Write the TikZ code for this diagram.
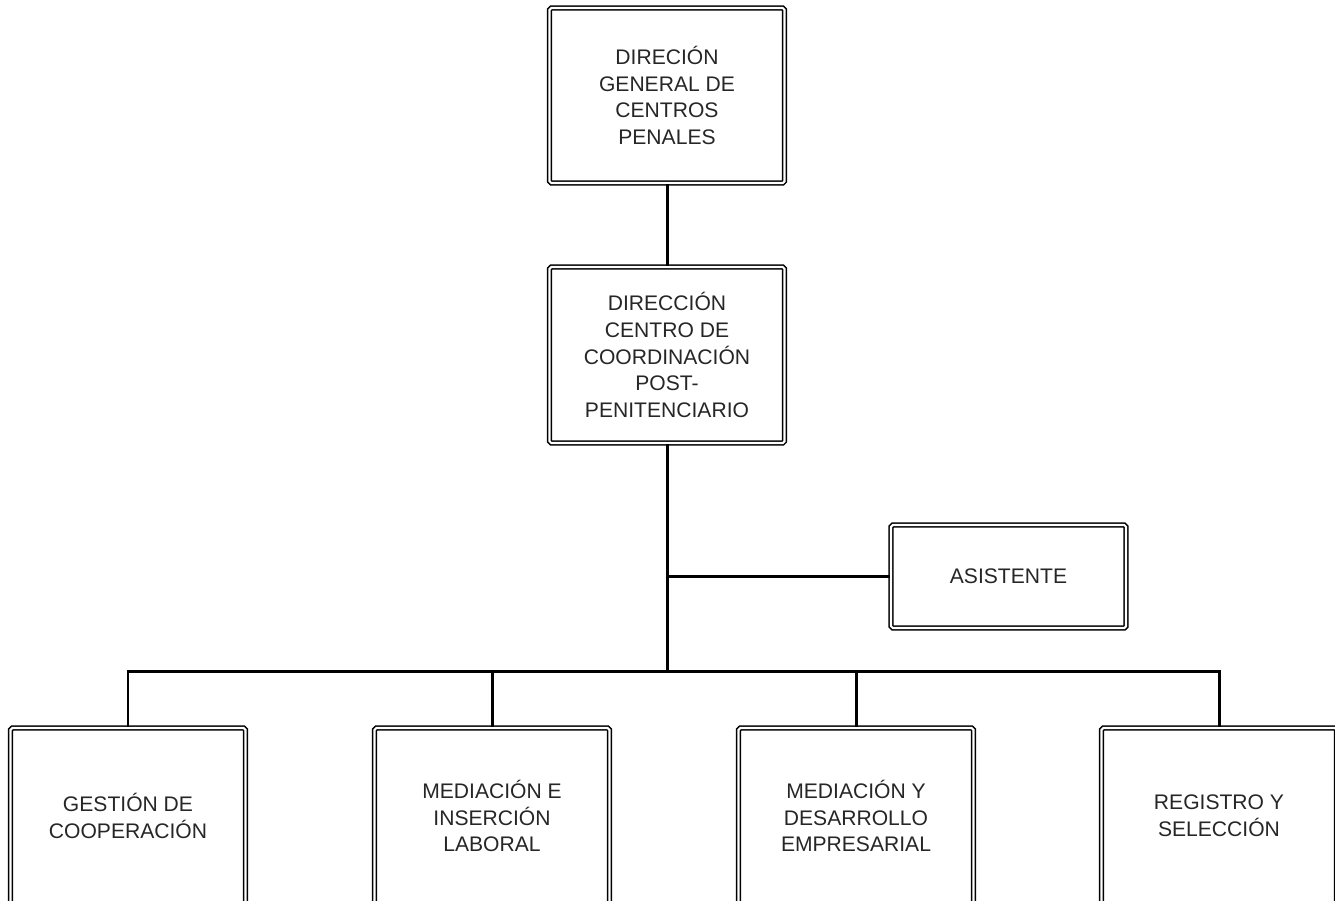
\documentclass[tikz,border=0pt]{standalone}
\usepackage{fontspec}
\setmainfont{Liberation Sans}
\usepackage{tikz}

\begin{document}
\begin{tikzpicture}[
unit/.style={rectangle, draw=black, double, double distance=1.2pt, line width=0.9pt,
  rounded corners=1pt, minimum width=4.7cm, minimum height=3.52cm, align=center,
  font=\fontsize{12}{15.3}\selectfont, text=black!85},
link/.style={line width=1.7pt}
]
\clip (0,0) rectangle (26.7,-18);
%Nodes
\node[unit, minimum height=3.5cm] (dgcp) at (13.34,-1.91) {DIRECIÓN\\GENERAL DE\\CENTROS\\PENALES};
\node[unit]      (dccpp)    [below of =dgcp, yshift= -4.19cm]              {DIRECCIÓN\\CENTRO DE\\COORDINACIÓN\\POST-\\PENITENCIARIO};
\node[unit, minimum height=2.06cm] (asis) [below of =dccpp, xshift= 6.83cm, yshift= -3.43cm] {ASISTENTE};
\node[unit]      (gest)     at (2.56,-16.32)                             {GESTIÓN DE\\COOPERACIÓN};
\node[unit]      (medi)     [right of =gest, xshift= 6.28cm]             {MEDIACIÓN E\\INSERCIÓN\\LABORAL};
\node[unit]      (mede)     [right of =medi, xshift= 6.28cm]             {MEDIACIÓN Y\\DESARROLLO\\EMPRESARIAL};
\node[unit]      (regi)     [right of =mede, xshift= 6.26cm]             {REGISTRO Y\\SELECCIÓN};
\coordinate (bus) at (13.34,-13.42);
%Lines
\draw[link] (dgcp) -- (dccpp);
\draw[link] (dccpp) -- (bus);
\draw[link] (asis.west) -- (asis.west -| bus);
\draw[link] (gest.north) |- (bus) -| (regi.north);
\draw[link] (medi.north) -- (medi.north |- bus);
\draw[link] (mede.north) -- (mede.north |- bus);
\end{tikzpicture}
\end{document}
